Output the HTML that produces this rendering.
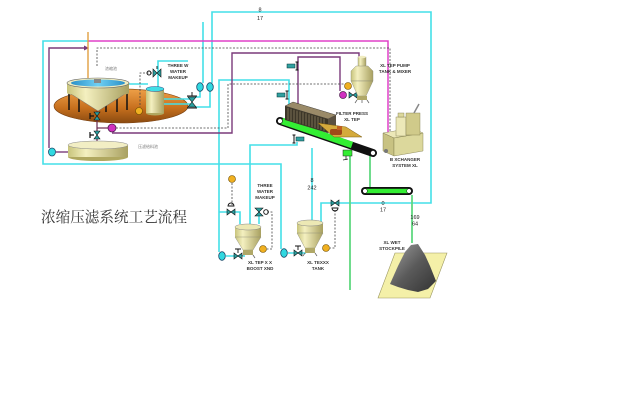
<!DOCTYPE html>
<html><head><meta charset="utf-8"><style>
html,body{margin:0;padding:0;background:#fff;}
svg{display:block}
text{font-family:"Liberation Sans","Noto Sans CJK SC",sans-serif;}
</style></head><body>
<svg width="640" height="400" viewBox="0 0 640 400" xmlns="http://www.w3.org/2000/svg">
<defs>
<linearGradient id="br" x1="0" y1="0" x2="0" y2="1">
 <stop offset="0" stop-color="#eea048"/><stop offset="0.55" stop-color="#c8701e"/><stop offset="1" stop-color="#8a4a10"/>
</linearGradient>
<linearGradient id="bg" x1="0" y1="0" x2="1" y2="0">
 <stop offset="0" stop-color="#c8c47c"/><stop offset="0.3" stop-color="#f4f0c0"/><stop offset="1" stop-color="#a8a060"/>
</linearGradient>
<linearGradient id="wt" x1="0" y1="0" x2="1" y2="0">
 <stop offset="0" stop-color="#2a90c8"/><stop offset="0.5" stop-color="#70d0f4"/><stop offset="1" stop-color="#2a90c8"/>
</linearGradient>
<linearGradient id="pile" x1="0" y1="0" x2="1" y2="1">
 <stop offset="0" stop-color="#a0a0a0"/><stop offset="0.5" stop-color="#5a5a5a"/><stop offset="1" stop-color="#333"/>
</linearGradient>
</defs>
<rect width="640" height="400" fill="#fff"/>

<!-- platform -->
<ellipse cx="121" cy="106" rx="67" ry="17" fill="url(#br)" stroke="#7a4010" stroke-width="0.6"/>

<!-- cyan lines -->
<g fill="none" stroke="#44dfe8" stroke-width="1.6">
<polyline points="88,41 43,41 43,164 281,164 281,249"/>
<polyline points="212,83 212,12 431,12 431,203 321,203 321,224"/>
<line x1="203" y1="22" x2="203" y2="83"/>
<polyline points="219,252 219,80 289,80 289,108"/>
<polyline points="297,142 297,145 250,145 250,224"/>
<line x1="312" y1="148" x2="312" y2="222"/>
<polyline points="158,89 158,61 188,61"/>
<line x1="128" y1="84" x2="148" y2="84"/>
<line x1="164" y1="99" x2="190" y2="99"/>
<line x1="164" y1="104" x2="190" y2="104"/>
<polyline points="200,91 200,97 195,97"/>
<polyline points="210,91 210,107 195,107"/>
<polyline points="219,212 240,212 240,224"/>
<line x1="259" y1="208" x2="259" y2="224"/>
<line x1="226" y1="256" x2="245" y2="256"/>
<line x1="288" y1="253" x2="306" y2="253"/>
</g>

<!-- purple -->
<g fill="none" stroke="#7a3a7a" stroke-width="1.4">
<polyline points="85,48 49,48 49,148"/>
<line x1="56" y1="152" x2="68" y2="152"/>
<polyline points="112,133 232,133 232,53 359,53 359,58"/>
<polyline points="298,107 298,57 340,57 340,91"/>
</g>
<polygon points="89,48 84,45.5 84,50.5" fill="#7a3a7a"/>

<!-- magenta -->
<polyline points="88,41 388,41 388,146" fill="none" stroke="#e040c8" stroke-width="1.5"/>

<!-- dashed -->
<g fill="none" stroke="#444" stroke-width="0.8" stroke-dasharray="2,1.5">
<polyline points="97,66 97,48 390,48 390,140"/>
<polyline points="116,128 228,128 228,84 345,84"/>
<polyline points="152,73 140,73 140,107"/>
<polyline points="232,183 232,205"/>
<polyline points="267,212 272,212 272,249 267,249"/>
<polyline points="335,210 335,248 330,248"/>
</g>

<!-- orange -->
<line x1="88" y1="32" x2="88" y2="78" stroke="#e0a040" stroke-width="1.4"/>

<!-- green lines -->
<g stroke="#60d880" stroke-width="1.8">
<line x1="350" y1="156" x2="350" y2="290"/>
<line x1="370" y1="154" x2="370" y2="188"/>
<line x1="412" y1="195" x2="412" y2="243"/>
</g>

<!-- thickener -->
<g stroke="#111" stroke-width="1.5">
<line x1="69" y1="92" x2="69" y2="110"/>
<line x1="79" y1="92" x2="79" y2="112"/>
<line x1="106" y1="92" x2="106" y2="112"/>
<line x1="117" y1="92" x2="117" y2="112"/>
<line x1="127" y1="92" x2="127" y2="110"/>
</g>
<polygon points="68,92 128,92 98,111" fill="url(#bg)" stroke="#777" stroke-width="0.5"/>
<ellipse cx="98" cy="93" rx="31" ry="3" fill="url(#bg)"/>
<rect x="67" y="83" width="62" height="10" fill="url(#bg)"/>
<ellipse cx="98" cy="83" rx="31" ry="5" fill="#f0ecc0" stroke="#666" stroke-width="0.6"/>
<ellipse cx="98" cy="83" rx="27" ry="3.5" fill="url(#wt)"/>
<rect x="94" y="79" width="7" height="4" fill="#888"/>

<!-- line from thickener down -->
<line x1="97" y1="111" x2="97" y2="145" stroke="#6a2a50" stroke-width="1.2"/>
<line x1="97" y1="128" x2="108" y2="128" stroke="#6a2a50" stroke-width="1.2"/>
<g fill="#2aa0a0" stroke="#111" stroke-width="0.6">
<polygon points="94,112 100,112 97,116"/><polygon points="94,120 100,120 97,116"/>
<polygon points="94,131 100,131 97,135"/><polygon points="94,139 100,139 97,135"/>
</g>
<path d="M90,113 V119 M90,116 H94 M90,132 V138 M90,135 H94" stroke="#111" stroke-width="1.2"/>
<circle cx="112" cy="128" r="4" fill="#d030c0" stroke="#502050" stroke-width="0.8"/>

<!-- lower tank -->
<ellipse cx="98" cy="157" rx="30" ry="4" fill="#b0a860"/>
<rect x="68" y="145" width="60" height="12" fill="url(#bg)"/>
<ellipse cx="98" cy="145" rx="30" ry="4" fill="#f2eec4" stroke="#888" stroke-width="0.5"/>
<ellipse cx="52" cy="152" rx="3.5" ry="4" fill="#30d8e0" stroke="#1a4a6a" stroke-width="0.8"/>

<!-- small tank -->
<ellipse cx="155" cy="113" rx="9" ry="2.5" fill="#b0a860"/>
<rect x="146" y="89" width="18" height="24" fill="url(#bg)"/>
<ellipse cx="155" cy="89" rx="9" ry="2.5" fill="#40dde6" stroke="#226" stroke-width="0.4"/>

<!-- gauges -->
<g fill="#f0b020" stroke="#6a4a00" stroke-width="0.6">
<circle cx="139" cy="111" r="3.5"/>
<circle cx="348" cy="86" r="3.5"/>
<circle cx="232" cy="179" r="3.5"/>
<circle cx="263" cy="249" r="3.5"/>
<circle cx="326" cy="248" r="3.5"/>
</g>

<!-- valves -->
<g fill="#2aa0a0" stroke="#111" stroke-width="0.6">
<polygon points="153,69 153,77 157,73"/><polygon points="161,69 161,77 157,73"/>
<polygon points="188,97 196,97 192,102"/><polygon points="188,107 196,107 192,102"/>
<polygon points="349,92 349,98 353,95"/><polygon points="357,92 357,98 353,95"/>
<polygon points="227,209 227,215 231,212"/><polygon points="235,209 235,215 231,212"/>
<polygon points="255,208 263,208 259,212"/><polygon points="255,216 263,216 259,212"/>
<polygon points="331,200 331,206 335,203"/><polygon points="339,200 339,206 335,203"/>
<polygon points="234,253 234,259 238,256"/><polygon points="242,253 242,259 238,256"/>
<polygon points="294,250 294,256 298,253"/><polygon points="302,250 302,256 298,253"/>
</g>
<g fill="none" stroke="#111" stroke-width="0.9">
<path d="M157,69 V66"/>
<circle cx="149" cy="73" r="2"/>
<path d="M187,96 H197 M187,108 H197 M192,96 V92"/>
<path d="M228,206 A3,3 0 0 1 234,206 Z"/>
<circle cx="266" cy="212" r="2.3"/>
<path d="M332,208 A3,3 0 0 0 338,208 Z"/>
<path d="M238,253 V249 M235,249 H241 M298,250 V246 M295,246 H301"/>
</g>
<circle cx="343" cy="95" r="3.5" fill="#d030c0" stroke="#502050" stroke-width="0.7"/>

<!-- cyan circles -->
<g fill="#30d8e0" stroke="#1a4a6a" stroke-width="0.8">
<ellipse cx="200" cy="87" rx="3.3" ry="4.3"/>
<ellipse cx="210" cy="87" rx="3.3" ry="4.3"/>
<ellipse cx="222" cy="256" rx="3.3" ry="4.3"/>
<ellipse cx="284" cy="253" rx="3.3" ry="4.3"/>
</g>

<!-- I-valves -->
<g fill="#30a0a0" stroke="#033" stroke-width="0.5">
<rect x="287" y="64" width="8" height="4"/>
<rect x="277" y="93" width="8" height="4"/>
<rect x="296" y="137" width="8" height="4"/>
</g>
<path d="M297,62 V70 M295.5,62 H298.5 M295.5,70 H298.5 M287,91 V99 M285.5,91 H288.5 M285.5,99 H288.5 M294,135 V143 M292.5,135 H295.5 M292.5,143 H295.5" stroke="#111" stroke-width="1"/>

<!-- diagonal conveyor -->
<line x1="280" y1="121" x2="373" y2="153" stroke="#111" stroke-width="8" stroke-linecap="round"/>
<line x1="282" y1="121" x2="352" y2="145" stroke="#33ee33" stroke-width="6.5"/>
<circle cx="280" cy="121" r="2.5" fill="#fff" stroke="#111" stroke-width="0.6"/>
<circle cx="373" cy="153" r="2.5" fill="#fff" stroke="#111" stroke-width="0.6"/>
<rect x="343" y="150" width="9" height="6" fill="#33ee33" stroke="#222" stroke-width="0.5"/>
<path d="M346,156 V160 M343,160 L348,159" stroke="#222" stroke-width="0.8"/>

<!-- filter press -->
<polygon points="285,106 293,102 336,115 328,119" fill="#9a8a68" stroke="#222" stroke-width="0.4"/>
<polygon points="285,106 328,119 328,133 285,120" fill="#3c3628"/>
<polygon points="328,119 336,115 336,129 328,133" fill="#5a5040"/>
<g stroke="#8a7e60" stroke-width="0.8">
<line x1="288" y1="107.9" x2="288" y2="119.9"/><line x1="291" y1="108.8" x2="291" y2="120.8"/>
<line x1="294" y1="109.7" x2="294" y2="121.7"/><line x1="297" y1="110.6" x2="297" y2="122.6"/>
<line x1="300" y1="111.5" x2="300" y2="123.5"/><line x1="303" y1="112.4" x2="303" y2="124.4"/>
<line x1="306" y1="113.3" x2="306" y2="125.3"/><line x1="309" y1="114.2" x2="309" y2="126.2"/>
<line x1="312" y1="115.2" x2="312" y2="127.2"/><line x1="315" y1="116.1" x2="315" y2="128.1"/>
<line x1="318" y1="117" x2="318" y2="129"/><line x1="321" y1="117.9" x2="321" y2="129.9"/>
<line x1="324" y1="118.8" x2="324" y2="130.8"/>
</g>
<polygon points="318,123 346,127 362,137 334,137" fill="#d4aa3c" stroke="#7a5a10" stroke-width="0.5"/>
<rect x="330" y="129" width="12" height="6" rx="2" fill="#a04818"/>
<rect x="337" y="126" width="5" height="4" fill="#c06020"/>

<!-- horizontal conveyor -->
<rect x="361" y="187" width="52" height="8" rx="4" fill="#111"/>
<rect x="364" y="188.8" width="44" height="4.4" fill="#33ee33"/>
<circle cx="365" cy="191" r="2.3" fill="#fff" stroke="#111" stroke-width="0.5"/>
<circle cx="409" cy="191" r="2.3" fill="#fff" stroke="#111" stroke-width="0.5"/>

<!-- cyclone -->
<rect x="358" y="57" width="8" height="11" fill="url(#bg)" stroke="#887" stroke-width="0.4"/>
<ellipse cx="362" cy="57" rx="4" ry="1.3" fill="#f0ecc0"/>
<polygon points="356,66 368,66 373,71 373,81 351,81 351,71" fill="url(#bg)" stroke="#887" stroke-width="0.4"/>
<polygon points="351,81 373,81 366,96 358,96" fill="url(#bg)" stroke="#887" stroke-width="0.4"/>
<rect x="357" y="96" width="10" height="4" fill="#b0a868"/>
<path d="M357,100 L355,103 M367,100 L369,103 M362,100 V103" stroke="#666" stroke-width="0.8"/>

<!-- compressor -->
<polygon points="383,133 412,128 423,133 394,138" fill="#ece8b8" stroke="#7a7648" stroke-width="0.4"/>
<polygon points="383,133 394,138 394,156 383,151" fill="#c8c282" stroke="#7a7648" stroke-width="0.4"/>
<polygon points="394,138 423,133 423,151 394,156" fill="#dcd89c" stroke="#7a7648" stroke-width="0.4"/>
<rect x="396" y="117" width="10" height="19" fill="#ece8b8" stroke="#7a7648" stroke-width="0.4"/>
<rect x="406" y="113" width="14" height="22" fill="#d0ca8a" stroke="#7a7648" stroke-width="0.4"/>
<rect x="398" y="113" width="6" height="4" fill="#dcd89c" stroke="#7a7648" stroke-width="0.4"/>
<line x1="414" y1="113" x2="419" y2="104" stroke="#888" stroke-width="1.5"/>
<circle cx="386" cy="151" r="2" fill="#777"/>

<!-- stockpile -->
<polygon points="395,253 447,253 430,298 378,298" fill="#f4f0a8" stroke="#9a9660" stroke-width="0.6"/>
<path d="M390,284 L398,266 L405,252 L411,245 L418,244 L425,255 L430,266 L436,281 L428,289 L418,292 L408,290 L398,287 Z" fill="url(#pile)"/>

<!-- hoppers -->
<rect x="235" y="227" width="26" height="10" fill="url(#bg)"/>
<polygon points="235,237 261,237 253,250 243,250" fill="url(#bg)" stroke="#887" stroke-width="0.4"/>
<rect x="243" y="250" width="10" height="5" fill="#b0a868"/>
<path d="M243,255 L241,258 M253,255 L255,258" stroke="#666" stroke-width="0.8"/>
<ellipse cx="248" cy="227" rx="13" ry="3" fill="#ece8b4" stroke="#888" stroke-width="0.5"/>

<rect x="297" y="223" width="26" height="10" fill="url(#bg)"/>
<polygon points="297,233 323,233 315,248 305,248" fill="url(#bg)" stroke="#887" stroke-width="0.4"/>
<rect x="305" y="248" width="10" height="5" fill="#b0a868"/>
<path d="M305,253 L303,256 M315,253 L317,256" stroke="#666" stroke-width="0.8"/>
<ellipse cx="310" cy="223" rx="13" ry="3" fill="#ece8b4" stroke="#888" stroke-width="0.5"/>

<!-- title -->
<text x="41" y="222" font-size="14.6" fill="#333" textLength="146" lengthAdjust="spacingAndGlyphs" style="font-family:'Liberation Serif','Noto Serif CJK SC',serif">浓缩压滤系统工艺流程</text>

<!-- tiny labels -->
<g font-size="4.5" font-weight="bold" fill="#333" text-anchor="middle">
<text x="178" y="67">THREE W</text>
<text x="178" y="73">WATER</text>
<text x="178" y="79">MAKEUP</text>
<text x="395" y="67">XL TEP PUMP</text>
<text x="395" y="73">TANK &amp; MIXER</text>
<text x="352" y="115">FILTER PRESS</text>
<text x="352" y="121">XL TEP</text>
<text x="405" y="161">B XCHANGER</text>
<text x="405" y="167">SYSTEM XL</text>
<text x="265" y="187">THREE</text>
<text x="265" y="193">WATER</text>
<text x="265" y="199">MAKEUP</text>
<text x="260" y="264">XL TEP X X</text>
<text x="260" y="270">BOOST XND</text>
<text x="318" y="264">XL TEXXX</text>
<text x="318" y="270">TANK</text>
<text x="392" y="244">XL WET</text>
<text x="392" y="250">STOCKPILE</text>
</g>
<text x="111" y="70" font-size="4" fill="#777" text-anchor="middle">浓缩池</text>
<text x="148" y="148" font-size="4" fill="#777" text-anchor="middle">压滤给料池</text>

<!-- numbers -->
<g font-size="5.5" fill="#222" text-anchor="middle">
<text x="260" y="11.5">8</text>
<text x="260" y="20">17</text>
<text x="383" y="205">0</text>
<text x="383" y="211.5">17</text>
<text x="312" y="182">8</text>
<text x="312" y="189.5">242</text>
<text x="415" y="219">169</text>
<text x="415" y="225.5">64</text>
</g>
</svg>
</body></html>
